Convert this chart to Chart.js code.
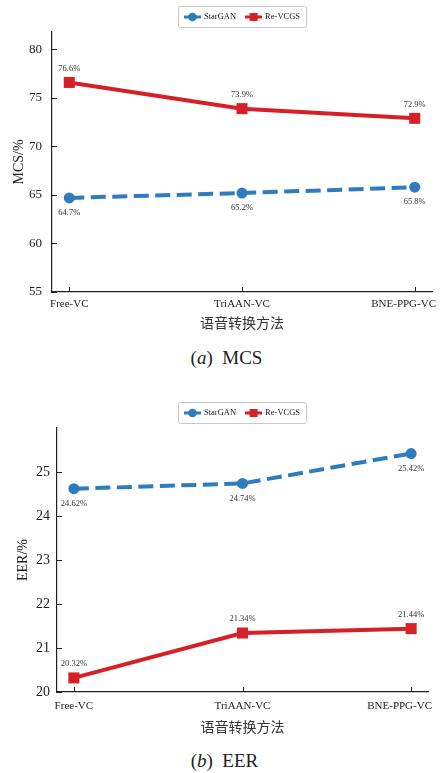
<!DOCTYPE html>
<html>
<head>
<meta charset="utf-8">
<script src="https://cdn.jsdelivr.net/npm/chart.js@4/dist/chart.umd.min.js"></script>
<style>
  body { margin: 0; background: #fff; width: 441px; height: 773px; position: relative; overflow: hidden; }
  canvas { position: absolute; left: 0; }
  .cap { position: absolute; width: 441px; text-align: center; font-family: 'Liberation Serif', serif; font-size: 19px; color: #222; line-height: 22px; }
</style>
</head>
<body>
<canvas id="mcsChart" width="441" height="340" style="top:0"></canvas>
<div class="cap" style="top:347px;left:6px">(<i>a</i>)&nbsp; MCS</div>
<canvas id="eerChart" width="441" height="350" style="top:390px"></canvas>
<div class="cap" style="top:750px;left:4px">(<i>b</i>)&nbsp; EER</div>
<script>
// dati
const categories = ["Free-VC", "TriAAN-VC", "BNE-PPG-VC"];
const seriesNames = ["StarGAN", "Re-VCGS"];
const mcsStarGAN = [64.7, 65.2, 65.8];
const mcsReVCGS = [76.6, 73.9, 72.9];
const eerStarGAN = [24.62, 24.74, 25.42];
const eerReVCGS = [20.32, 21.34, 21.44];
const mcsTicks = [55, 60, 65, 70, 75, 80];
const eerTicks = [20, 21, 22, 23, 24, 25];
const xTitle = "语音转换方法";

const BLUE = "#2E7BBE", RED = "#D62027";
const SERIF = "'Liberation Serif', 'Times New Roman', serif";
const CJK = "'Noto Sans CJK SC', sans-serif";

// maniglia della legenda: linea corta + marker, come in matplotlib
function handleImg(color, shape){
  const c = document.createElement("canvas");
  c.width = 17; c.height = 10;
  const g = c.getContext("2d");
  g.strokeStyle = color; g.lineWidth = 3;
  g.beginPath(); g.moveTo(0, 5); g.lineTo(17, 5); g.stroke();
  g.fillStyle = color;
  if (shape === "circle") { g.beginPath(); g.arc(8.5, 5, 4.3, 0, Math.PI * 2); g.fill(); }
  else g.fillRect(4.5, 1, 8, 8);
  return c;
}

const boxLegend = {
  id: "boxLegend",
  afterDraw(chart){
    const ctx = chart.ctx, a = chart.chartArea;
    ctx.save();
    ctx.font = "8.5px " + SERIF;
    const items = chart.data.datasets.map(ds => ({ ds, w: ctx.measureText(ds.label).width }));
    const pad = 6, hw = 17, gap = 3, sep = 9, h = 21;
    const total = pad * 2 + items.reduce((s, it) => s + hw + gap + it.w, 0) + sep * (items.length - 1);
    const x0 = Math.round((a.left + a.right) / 2 - total / 2), y0 = Math.round(a.top - 5 - h);
    ctx.strokeStyle = "#c8c8c8"; ctx.lineWidth = 1;
    ctx.beginPath(); ctx.roundRect(x0 + 0.5, y0 + 0.5, total, h, 2); ctx.stroke();
    let x = x0 + pad; const cy = y0 + h / 2 + 0.5;
    items.forEach(it => {
      ctx.drawImage(it.ds.handle, x, cy - 5);
      x += hw + gap;
      ctx.fillStyle = "#222"; ctx.textBaseline = "middle"; ctx.textAlign = "left";
      ctx.fillText(it.ds.label, x, cy);
      x += it.w + sep;
    });
    ctx.restore();
  }
};

// tacche verso l'interno, etichette dell'asse x e valori sui punti
const axisDeco = {
  id: "axisDeco",
  afterDraw(chart, args, opts){
    const ctx = chart.ctx, xs = chart.scales.x, ys = chart.scales.y;
    ctx.save();
    ctx.strokeStyle = "#222"; ctx.lineWidth = 1;
    ys.ticks.forEach(t => {
      const y = Math.round(ys.getPixelForValue(t.value)) + 0.5;
      ctx.beginPath(); ctx.moveTo(ys.right, y); ctx.lineTo(ys.right + 5, y); ctx.stroke();
    });
    xs.ticks.forEach(t => {
      const x = Math.round(xs.getPixelForValue(t.value)) + 0.5;
      ctx.beginPath(); ctx.moveTo(x, xs.top); ctx.lineTo(x, xs.top - 5); ctx.stroke();
    });
    ctx.font = "11px " + SERIF; ctx.fillStyle = "#222";
    ctx.textBaseline = "middle"; ctx.textAlign = "center";
    xs.ticks.forEach(t => {
      const label = categories[t.value];
      const w = ctx.measureText(label).width;
      const x = Math.min(xs.getPixelForValue(t.value), chart.width - opts.edge - w / 2);
      ctx.fillText(label, x, xs.top + opts.gap);
    });
    ctx.font = "8.5px " + SERIF; ctx.fillStyle = "#333";
    chart.data.datasets.forEach((ds, i) => {
      chart.getDatasetMeta(i).data.forEach((pt, j) => {
        ctx.fillText(ds.data[j].y.toFixed(ds.digits) + "%", pt.x, pt.y + ds.labelDy);
      });
    });
    ctx.restore();
  }
};

function makeChart(id, starVals, reVals, yTicks, yMin, yMax, yTitle, digits, box){
  const pts = vals => vals.map((v, i) => ({ x: i, y: v }));
  return new Chart(document.getElementById(id), {
    type: "line",
    data: {
      datasets: [{
        label: seriesNames[0], data: pts(starVals),
        borderColor: BLUE, backgroundColor: BLUE, pointBackgroundColor: BLUE, pointBorderColor: BLUE,
        borderWidth: 4, borderDash: [15, 6.5], tension: 0,
        pointStyle: "circle", pointRadius: 5.5, pointHoverRadius: 5.5, pointBorderWidth: 0,
        labelDy: 15, digits, handle: handleImg(BLUE, "circle")
      }, {
        label: seriesNames[1], data: pts(reVals),
        borderColor: RED, backgroundColor: RED, pointBackgroundColor: RED, pointBorderColor: RED,
        borderWidth: 4, tension: 0,
        pointStyle: "rect", pointRadius: 7.8, pointHoverRadius: 7.8, pointBorderWidth: 0,
        labelDy: -14, digits, handle: handleImg(RED, "rect")
      }]
    },
    options: {
      responsive: false, animation: false, events: [],
      layout: { padding: { left: 0, right: 441 - box.right, top: box.top, bottom: 0 } },
      plugins: {
        legend: { display: false }, tooltip: { enabled: false },
        axisDeco: { gap: box.xGap, edge: box.edge }
      },
      scales: {
        x: {
          type: "linear", min: -0.1, max: 2.1,
          afterBuildTicks: s => { s.ticks = categories.map((_, i) => ({ value: i })); },
          afterFit: s => { s.height = box.h - box.bottom; },
          ticks: { display: false },
          grid: { drawOnChartArea: false, drawTicks: false },
          border: { color: "#222", width: 1.2 },
          title: { display: true, text: xTitle, color: "#333", font: { family: CJK, size: 14 }, padding: { top: 0, bottom: box.xTitlePad } }
        },
        y: {
          min: yMin, max: yMax,
          afterBuildTicks: s => { s.ticks = yTicks.map(v => ({ value: v })); },
          afterFit: s => { s.width = box.left; },
          ticks: { color: "#222", font: { family: SERIF, size: box.yFont }, padding: box.yPad },
          grid: { drawOnChartArea: false, drawTicks: false },
          border: { color: "#222", width: 1.2 },
          title: { display: true, text: yTitle, color: "#222", font: { family: SERIF, size: 14 }, padding: { top: box.yTitlePad, bottom: 0 } }
        }
      }
    },
    plugins: [axisDeco, boxLegend]
  });
}

makeChart("mcsChart", mcsStarGAN, mcsReVCGS, mcsTicks, 55, 81.8, "MCS/%", 1,
  { left: 52, right: 432, top: 32, bottom: 292, h: 340, xGap: 12, edge: 5, xTitlePad: 8.6, yFont: 13, yPad: 10, yTitlePad: 10.6 });
makeChart("eerChart", eerStarGAN, eerReVCGS, eerTicks, 20, 26, "EER/%", 2,
  { left: 57, right: 428, top: 38, bottom: 302, h: 350, xGap: 14, edge: 9, xTitlePad: 4.6, yFont: 14, yPad: 7, yTitlePad: 14.6 });
</script>
</body>
</html>
